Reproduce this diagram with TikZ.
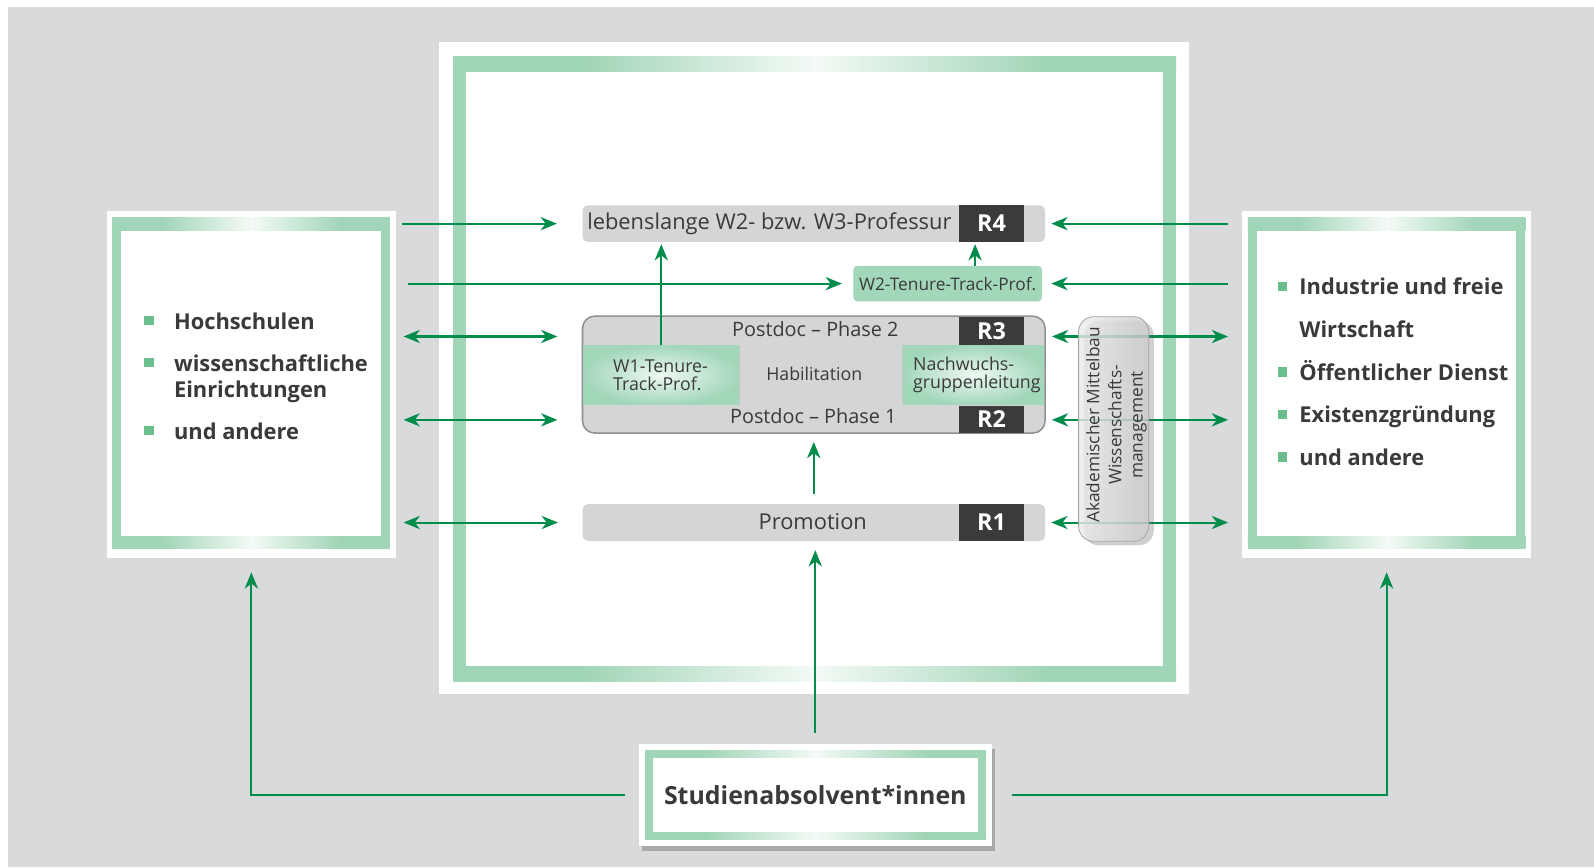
\documentclass[tikz,border=0pt]{standalone}
\usepackage{fontspec}
\setmainfont{Open Sans}
\usetikzlibrary{arrows.meta,shadows,calc}

\definecolor{bggray}{HTML}{D9DADC}
\definecolor{framegreen}{HTML}{A1D5B7}
\definecolor{framelight}{HTML}{F4FAF6}
\definecolor{bargray}{HTML}{D4D5D7}
\definecolor{rdark}{HTML}{3B3B3C}
\definecolor{arrowgreen}{HTML}{008C4B}
\definecolor{txt}{HTML}{3A3A3A}
\definecolor{bulletgreen}{HTML}{6BBF8C}
\definecolor{cellgreen}{HTML}{A3D7BA}
\definecolor{outlinegray}{HTML}{8F9092}

% horizontal fade used on the top and bottom bars of every frame
\pgfdeclarehorizontalshading{framefade}{100bp}{%
  color(0bp)=(framegreen); color(25bp)=(framegreen); color(34bp)=(framegreen);
  color(50bp)=(framelight); color(66bp)=(framegreen); color(75bp)=(framegreen);
  color(100bp)=(framegreen)}

% green frame: outer corners (#1,#2)-(#3,#4), side width #5, top/bottom width #6
\newcommand\greenframe[6]{%
  \fill[framegreen] (#1,#2) rectangle (#3,#4);
  \shade[shading=framefade] (#1,#2) rectangle (#3,{#2+#6});
  \shade[shading=framefade] (#1,{#4-#6}) rectangle (#3,#4);
  \fill[white] ({#1+#5},{#2+#6}) rectangle ({#3-#5},{#4-#6});
}

\begin{document}
\begin{tikzpicture}[x=1pt,y=-1pt,
  plate/.style={fill=white, inner sep=0, outer sep=0},
  rowbar/.style={fill=bargray, rounded corners=5pt, inner sep=0, minimum width=455pt, minimum height=36pt},
  rbox/.style={fill=rdark, text=white, inner sep=0, minimum width=64pt,
    font=\fontsize{23}{23}\selectfont\bfseries, text height=16.4pt, text depth=0pt},
  bandcell/.style={inner sep=0, minimum height=58pt},
  lbl/.style={anchor=base, text=txt, inner sep=0},
  lbll/.style={anchor=base west, text=txt, inner sep=0},
  listitem/.style={anchor=base west, text=txt, inner sep=0, font=\fontsize{21.5}{26}\selectfont\bfseries},
  bulletsq/.style={fill=bulletgreen, inner sep=0, minimum size=9pt},
  tipshape/.tip={Stealth[length=16pt,width=13pt,inset=5pt]},
  arr/.style={draw=arrowgreen, line width=2pt, -tipshape},
  dbl/.style={draw=arrowgreen, line width=2pt, tipshape-tipshape},
  pilltext/.style={anchor=base, rotate=90, text=txt, inner sep=0, font=\fontsize{17}{21}\selectfont},
]
\useasboundingbox (0,0) rectangle (1568,853);
\fill[white] (0,0) rectangle (1568,853);
\fill[bggray] (8,7) rectangle (1568,853);

% ---------- white plates with green frames ----------
\node[plate, minimum width=738pt, minimum height=642pt] (center) at (801,362) {};
\greenframe{446}{56}{1157}{670}{12.5}{14.5}

\node[plate, minimum width=284.5pt, minimum height=341.5pt] (leftbox) at (247.25,378.25) {};
\greenframe{110.5}{214}{383.5}{540}{9}{13}

\node[plate, minimum width=284.5pt, minimum height=341.5pt] (rightbox) at (1364,378.25) {};
\greenframe{1227.5}{214}{1500.5}{540}{9}{13}

\node[plate, minimum width=347pt, minimum height=100pt,
      drop shadow={shadow xshift=3pt, shadow yshift=-5pt, opacity=.35, fill=black!70}] (stud) at (802,782) {};
\greenframe{634.5}{738}{970}{825.5}{8}{7.5}
\node[lbl, font=\fontsize{24.5}{28}\selectfont\bfseries] (studtxt) at (802,791) {Studienabsolvent*innen};

% ---------- lists ----------
\node[bulletsq] (lb1) at (146.5,315.5) {};
\node[listitem] (li1) at (171,324) {Hochschulen};
\node[bulletsq] (lb2) at (146.5,357) {};
\node[listitem] (li2) at (171,365.5) {wissenschaftliche};
\node[listitem] (li2b) at (171,391) {Einrichtungen};
\node[bulletsq] (lb3) at (146.5,423.5) {};
\node[listitem] (li3) at (171,432) {und andere};

\node[bulletsq] (rb1) at (1261.5,281.5) {};
\node[listitem] (ri1) at (1278,290) {Industrie und freie};
\node[listitem] (ri1b) at (1278,332) {Wirtschaft};
\node[bulletsq] (rb2) at (1261.5,366) {};
\node[listitem] (ri2) at (1278,374.5) {Öffentlicher Dienst};
\node[bulletsq] (rb3) at (1261.5,407.5) {};
\node[listitem] (ri3) at (1278,416) {Existenzgründung};
\node[bulletsq] (rb4) at (1261.5,449.5) {};
\node[listitem] (ri4) at (1278,458) {und andere};

% ---------- career levels ----------
\node[rowbar] (r4bar) at (800.5,220) {};
\node[lbll, font=\fontsize{21.5}{26}\selectfont] (r4txt) at (577.5,226) {lebenslange W2- bzw. W3-Professur};
\node[rbox, minimum height=36pt] (r4) at (975.3,220) {R4};

\node[fill=cellgreen, rounded corners=4pt, inner sep=0, minimum width=185.6pt, minimum height=35pt] (w2) at (932.2,279) {};
\node[lbl, font=\fontsize{17}{20}\selectfont] (w2txt) at (932.2,285.3) {W2-Tenure-Track-Prof.};

\node[fill=bargray, draw=outlinegray, line width=1.5pt, rounded corners=12pt, inner sep=0,
      minimum width=455pt, minimum height=115pt] (pd) at (800.5,368.5) {};
\node[bandcell, minimum width=153pt, inner color=cellgreen!18!white, outer color=cellgreen] (w1) at (650.5,369) {};
\node[bandcell, minimum width=161pt, fill=bargray] (hab) at (807.5,369) {};
\node[bandcell, minimum width=139pt, inner color=cellgreen!18!white, outer color=cellgreen] (nw) at (957.5,369) {};
\draw[black!22, line width=.6pt] (w1.north east) -- (w1.south east);
\draw[black!22, line width=.6pt] (nw.north west) -- (nw.south west);
\node[lbl, font=\fontsize{19.5}{23}\selectfont] (p2txt) at (802,331) {Postdoc – Phase 2};
\node[rbox, minimum height=27pt] (r3) at (975.3,325.5) {R3};
\node[lbl, font=\fontsize{19.5}{23}\selectfont] (p1txt) at (800,417) {Postdoc – Phase 1};
\node[rbox, minimum height=26.5pt] (r2) at (975.3,412.3) {R2};
\node[lbll, font=\fontsize{17.5}{18}\selectfont] (w1a) at (603,366.5) {W1-Tenure-};
\node[lbll, font=\fontsize{17.5}{18}\selectfont] (w1b) at (603,384.5) {Track-Prof.};
\node[lbl, font=\fontsize{17.5}{20}\selectfont] (habtxt) at (801,374) {Habilitation};
\node[lbll, font=\fontsize{17.5}{18}\selectfont] (nwa) at (898,364.5) {Nachwuchs-};
\node[lbll, font=\fontsize{17.5}{18}\selectfont] (nwb) at (898,382.5) {gruppenleitung};

\node[rowbar] (promo) at (800.5,514) {};
\node[lbl, font=\fontsize{21.5}{26}\selectfont] (promotxt) at (799.5,521) {Promotion};
\node[rbox, minimum height=36pt] (r1) at (975.3,514) {R1};

% ---------- connectors ----------
\coordinate (lR4) at (395,220);
\coordinate (lW2) at (401,279);
\coordinate (lR3) at (397,331);
\coordinate (lR2) at (397,413);
\coordinate (lR1) at (397,514);
\coordinate (rR4) at (1208,220);
\coordinate (rW2) at (1208,279);
\coordinate (rR3) at (1208,331);
\coordinate (rR2) at (1208,413);
\coordinate (rR1) at (1208,514);

\draw[arr, shorten >=25pt] (lR4) -- (lR4 -| r4bar.west);
\draw[arr, shorten >=11pt] (lW2) -- (lW2 -| w2.west);
\draw[dbl, shorten >=24pt] (lR3) -- (lR3 -| pd.west);
\draw[dbl, shorten >=24pt] (lR2) -- (lR2 -| pd.west);
\draw[dbl, shorten >=24pt] (lR1) -- (lR1 -| promo.west);

\draw[arr, shorten >=6pt] (rR4) -- (rR4 -| r4bar.east);
\draw[arr, shorten >=9pt] (rW2) -- (rW2 -| w2.east);
\draw[dbl, shorten >=6pt] (rR3) -- (rR3 -| pd.east);
\draw[dbl, shorten >=6pt] (rR2) -- (rR2 -| pd.east);
\draw[dbl, shorten >=6pt] (rR1) -- (rR1 -| promo.east);

\draw[arr, shorten >=2pt] (w1.north) -- (w1.north |- r4bar.south);
\coordinate (w2up) at ($(w2.north west)!0.645!(w2.north east)$);
\draw[arr, shorten >=2pt] (w2up) -- (w2up |- r4bar.south);
\draw[arr, shorten <=10pt, shorten >=8pt] (promo.north) -- (promo.north |- pd.south);
\draw[arr, shorten <=11pt, shorten >=9pt] (stud.north) -- (stud.north |- promo.south);
\draw[arr, shorten <=14pt, shorten >=14pt] (stud.west) -| (leftbox.south);
\draw[arr, shorten <=19.5pt, shorten >=14pt] (stud.east) -| (rightbox.south);

% ---------- side pill ----------
\node[draw=black!35, line width=.8pt, rounded corners=15pt, inner sep=0,
      minimum width=69pt, minimum height=221pt,
      left color=black!7, right color=black!20, fill opacity=.8,
      drop shadow={shadow xshift=5pt, shadow yshift=-4pt, opacity=.3, fill=black!60}] (pill) at (1095.5,422) {};
\node[pilltext] (pl1) at (1081.5,418) {Akademischer Mittelbau};
\node[pilltext] (pl2) at (1103,418) {Wissenschafts-};
\node[pilltext] (pl3) at (1124,418) {management};
\end{tikzpicture}
\end{document}
